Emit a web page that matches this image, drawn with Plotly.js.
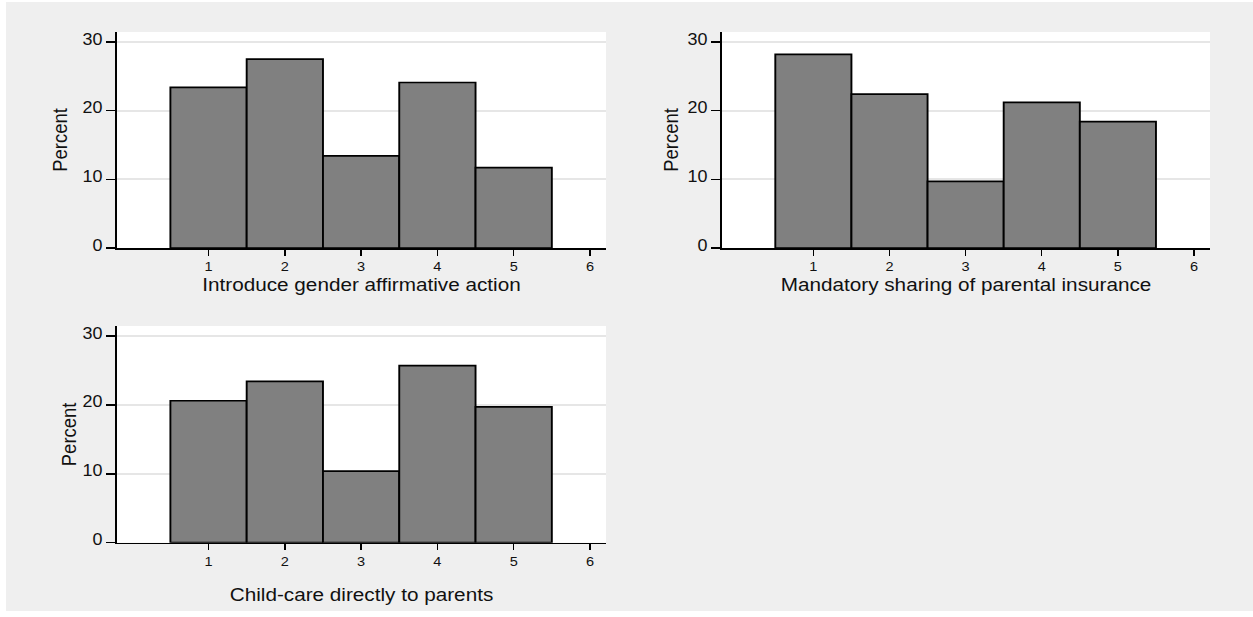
<!DOCTYPE html>
<html><head><meta charset="utf-8">
<script src="https://cdn.plot.ly/plotly-3.0.1.min.js"></script>
<style>html,body{margin:0;padding:0;background:#ffffff;overflow:hidden}
#chart{position:absolute;left:6px;top:2px;width:1113px;height:609px;transform:scaleX(1.1204);transform-origin:0 0}</style>
</head><body><div id="chart"></div>
<script>
const categories = [1, 2, 3, 4, 5];
const affirmativeAction = [23.4, 27.5, 13.4, 24.1, 11.7];
const parentalInsurance = [28.2, 22.4, 9.7, 21.2, 18.4];
const childCare = [20.6, 23.4, 10.4, 25.7, 19.7];
const xTickVals = [1, 2, 3, 4, 5, 6];
const xTickText = ['1', '2', '3', '4', '5', '6'];
const yTickVals = [0, 10, 20, 30];
const yTickText = ['0', '10', '20', '30'];
const panelTitles = ['Introduce gender affirmative action', 'Mandatory sharing of parental insurance', 'Child-care directly to parents'];
const yTitle = 'Percent';

const FONT = '"Liberation Sans", Arial, sans-serif';
const barStyle = {color: '#808080', line: {color: '#000000', width: 1.7}};

function barTrace(vals, xa, ya) {
  return {type: 'bar', x: categories, y: vals, width: 1, marker: barStyle,
          xaxis: xa, yaxis: ya, showlegend: false, hoverinfo: 'x+y'};
}

const data = [
  barTrace(affirmativeAction, 'x', 'y'),
  barTrace(parentalInsurance, 'x2', 'y2'),
  barTrace(childCare, 'x3', 'y3')
];

function xAxis(domain, anchor, title, standoff) {
  return {domain: domain, anchor: anchor, range: [-0.2, 6.21],
    tickmode: 'array', tickvals: xTickVals, ticktext: xTickText,
    ticks: 'outside', ticklen: 6, tickwidth: 1.2, tickcolor: '#000',
    showline: true, linecolor: '#000', linewidth: 1.7, showgrid: false, zeroline: false,
    tickfont: {family: FONT, size: 13, color: '#111'},
    title: {text: title, font: {family: FONT, size: 18.5, color: '#111'}, standoff: standoff},
    fixedrange: true};
}
function yAxis(domain, anchor, standoff) {
  return {domain: domain, anchor: anchor, range: [0, 31.45],
    tickmode: 'array', tickvals: yTickVals, ticktext: yTickText,
    ticks: 'outside', ticklen: 8, tickwidth: 1.4, tickcolor: '#000',
    ticklabelshift: -3,
    showline: true, linecolor: '#000', linewidth: 1.7,
    showgrid: true, gridcolor: '#e6e6e6', gridwidth: 2, zeroline: false,
    tickfont: {family: FONT, size: 16, color: '#111'},
    title: {text: yTitle, font: {family: FONT, size: 18.5, color: '#111'}, standoff: standoff},
    fixedrange: true};
}

const layout = {
  width: 1113, height: 609,
  margin: {l: 0, r: 0, t: 0, b: 0, pad: 0},
  paper_bgcolor: '#efefef', plot_bgcolor: '#ffffff',
  bargap: 0, showlegend: false,
  font: {family: FONT},
  xaxis: xAxis([0.08901, 0.48115], 'y', panelTitles[0], 2),
  yaxis: yAxis([0.59606, 0.95074], 'x', 8),
  xaxis2: xAxis([0.57418, 0.96552], 'y2', panelTitles[1], 2),
  yaxis2: yAxis([0.59606, 0.95074], 'x2', 3),
  xaxis3: xAxis([0.08901, 0.48115], 'y3', panelTitles[2], 20),
  yaxis3: yAxis([0.11215, 0.46798], 'x3', 0)
};

Plotly.newPlot('chart', data, layout, {displayModeBar: false, staticPlot: true});
</script>
</body></html>
